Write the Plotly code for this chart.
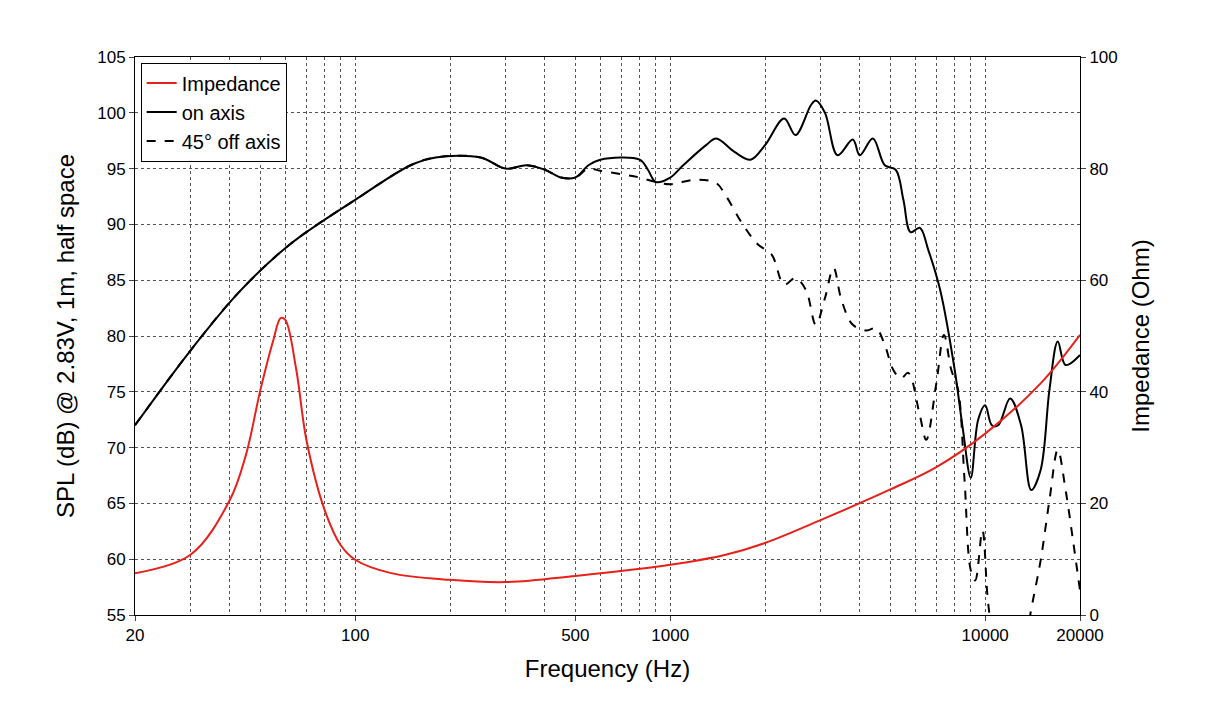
import plotly.graph_objects as go

f_on = [20,30,43,62,100,150,180,250,300,350,400,450,500,550,600,800,850,900,1000,1100,1300,1400,1600,1800,2000,2300,2500,2800,2900,3100,3400,3800,4000,4400,4800,5200,5500,5800,6200,6600,7200,8000,8500,9000,9500,10000,10500,11000,12000,13000,14000,15000,16000,17000,18000,20000]
spl_on = [72,78.7,84,88.2,92.2,95.3,96,96,95,95.3,94.9,94.2,94.2,95.3,95.8,95.8,94.9,93.8,94.2,95.3,97.1,97.7,96.5,95.8,97.1,99.5,98,100.7,101.1,100,96.2,97.6,96.2,97.7,95.3,94.9,92.2,89.3,89.7,87.7,84.1,77,71.6,67.3,72.5,73.8,72,72,74.4,72,66.2,68,75.2,79.5,77.4,78.3]
f_off = [20,30,43,62,100,150,180,250,300,350,400,450,500,550,600,700,800,900,1000,1200,1400,1500,1700,1900,2100,2300,2500,2700,2900,3100,3300,3500,3800,4200,4500,4800,5100,5400,5700,6200,6500,7000,7400,7800,8200,8600,9000,9300,9800,10200,10700,12000,14000,15000,16000,17000,18000,19000,20000]
spl_off = [72,78.7,84,88.2,92.2,95.3,96,96,95,95.3,94.9,94.2,94.2,95,94.8,94.5,94.2,93.8,93.6,94,93.7,92.6,90,88.2,87.3,84.6,85.2,84.1,81,83.4,86.1,83.2,81,80.5,80.7,79.2,77,76.2,76.7,72.9,70.7,75.8,80.1,77,75.2,67.1,59,58.1,62.6,56.3,52,45,55.5,59.9,65.3,69.8,66.2,61.7,57.2]
f_imp = [20,30,40,45,50,55,58,60,65,70,80,90,100,130,200,300,500,1000,1500,2000,3000,5000,7000,10000,15000,20000]
imp = [7.5,10.8,20.6,28.7,40.3,49.3,53.2,52.9,44,31.4,18.8,12.5,9.9,7.5,6.3,5.9,7,9,10.8,12.9,17,22.5,26.5,32.5,41.5,50.2]

fig = go.Figure()
fig.add_trace(go.Scatter(x=f_imp, y=imp, name="Impedance", yaxis="y2", mode="lines",
                         line=dict(color="#e8201a", width=2, shape="spline")))
fig.add_trace(go.Scatter(x=f_on, y=spl_on, name="on axis", mode="lines",
                         line=dict(color="black", width=2, shape="spline")))
fig.add_trace(go.Scatter(x=f_off, y=spl_off, name="45° off axis", mode="lines",
                         line=dict(color="black", width=2, dash="dash", shape="spline")))

font = dict(family="Liberation Sans, Arial", size=17, color="black")
fig.update_layout(
    width=1214, height=728, margin=dict(l=127, r=142, t=49, b=121),
    plot_bgcolor="white", paper_bgcolor="white", font=font,
    xaxis=dict(type="log", range=[1.30103, 4.30103], tickvals=[20,100,500,1000,10000,20000],
               ticktext=["20","100","500","1000","10000","20000"],
               showgrid=False, minor=dict(showgrid=True, gridcolor="#555", griddash="dot", gridwidth=1,
                                          tickvals=[30,40,50,60,70,80,90,100,200,300,400,500,600,700,800,900,1000,2000,3000,4000,5000,6000,7000,8000,9000,10000]),
               showline=True, linecolor="black", mirror=True, ticks="outside", ticklen=5,
               title=dict(text="Frequency (Hz)", font=dict(size=24)), zeroline=False),
    yaxis=dict(range=[55,105], dtick=5, showgrid=True, gridcolor="#555", griddash="dot",
               showline=True, linecolor="black", mirror=True, ticks="outside", ticklen=5,
               title=dict(text="SPL (dB) @ 2.83V, 1m, half space", font=dict(size=24)), zeroline=False),
    yaxis2=dict(range=[0,100], dtick=20, overlaying="y", side="right", showgrid=False,
                ticks="outside", ticklen=5, showline=True, linecolor="black",
                title=dict(text="Impedance (Ohm)", font=dict(size=24)), zeroline=False),
    legend=dict(x=0.006, y=0.99, xanchor="left", yanchor="top", bgcolor="white",
                bordercolor="black", borderwidth=1, font=dict(size=20)),
)
fig.write_html("out.html")
